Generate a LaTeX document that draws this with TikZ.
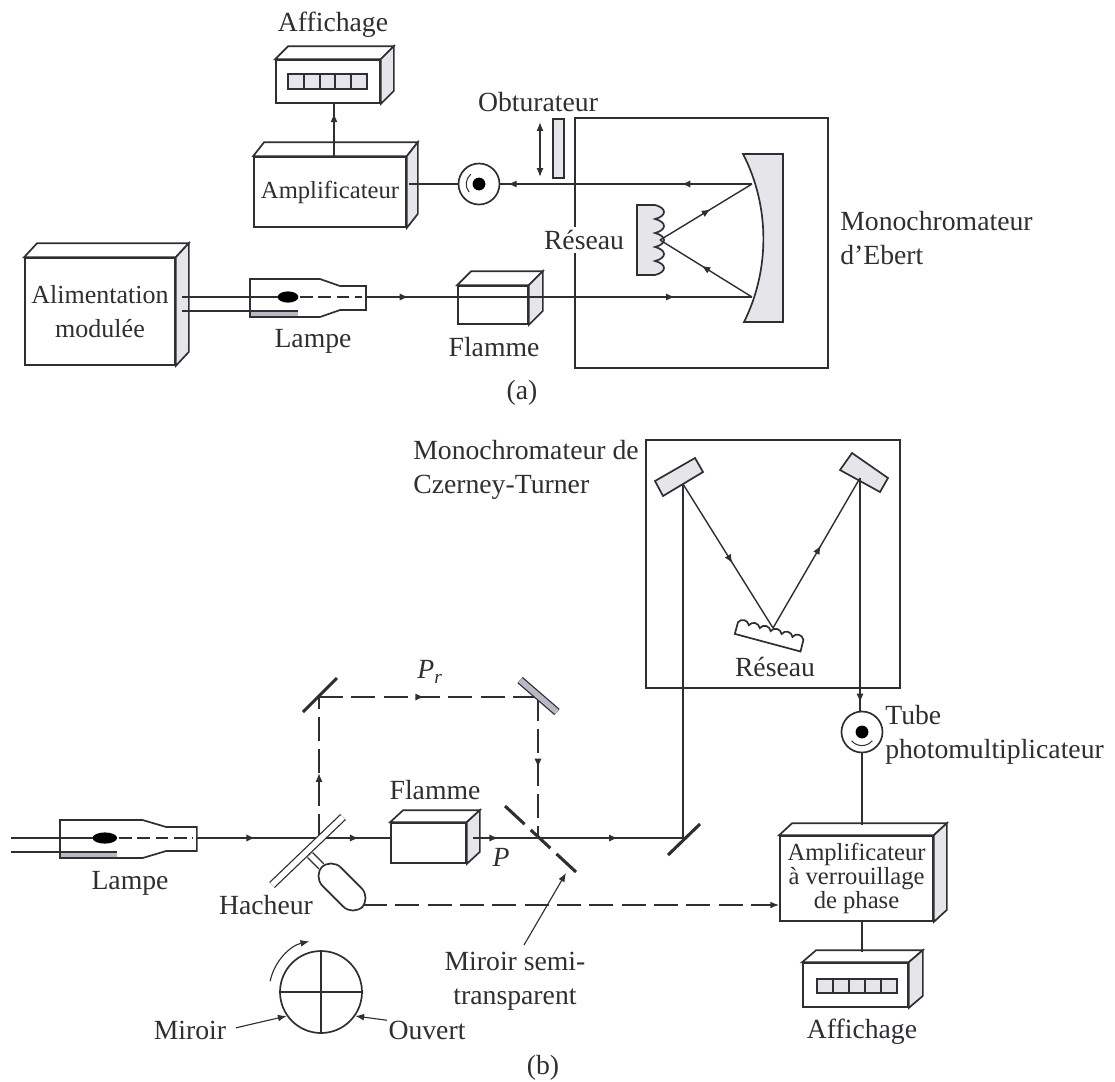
\documentclass[tikz,border=0pt]{standalone}
\usepackage{fontspec}
\setmainfont{Liberation Serif}
\usepackage{tikz}
\usetikzlibrary{arrows.meta,positioning,calc,decorations.markings}
\definecolor{DarkInk}{HTML}{2E2E33}
\definecolor{SoftGray}{HTML}{E6E6EA}
\definecolor{MidGray}{HTML}{B9B9C6}

\tikzset{
  boxsize/.style 2 args={minimum width=#1*0.025cm, minimum height=#2*0.025cm},
  frontbox/.style={draw=DarkInk, fill=white, line width=1.2pt, inner sep=0pt, align=center, text=DarkInk},
  smallfont/.style={font=\fontsize{17.5}{17}\selectfont},
  txtlabel/.style={text=DarkInk, inner sep=0pt, align=center},
  txtleft/.style={text=DarkInk, inner sep=0pt, align=left, anchor=west},
  beam/.style={draw=DarkInk, line width=1pt},
  refbeam/.style={draw=DarkInk, line width=1pt, dash pattern=on 17pt off 6pt},
  tipat/.style={postaction={decorate, decoration={markings, mark=at position #1 with {\arrow{Latex[length=2.2mm,width=1.8mm]}}}}},
  endtip/.style={-{Latex[length=2.2mm,width=1.7mm]}},
  mirrorbar/.style={draw=DarkInk, line width=2.2pt},
  mirrorstrip/.style={draw=DarkInk, line width=0.9pt, double=#1, double distance=4pt},
  detector/.style={circle, draw=DarkInk, fill=white, line width=1.2pt, inner sep=0pt, boxsize={41}{41}},
  lampe/.pic={
    \draw[DarkInk, line width=1.2pt, fill=white] (0,-18) -- (70,-18) -- (90,-11) -- (116,-11) -- (116,13) -- (90,13) -- (70,20) -- (0,20) -- cycle;
    \fill[MidGray] (0,14) rectangle (48,20);
    \draw[DarkInk, line width=1.2pt] (0,20) -- (70,20) (0,-18) -- (0,20);
    \fill[black] (38,0) ellipse [x radius=0.26cm, y radius=0.14cm];
    \draw[DarkInk, line width=1pt, dash pattern=on 9pt off 4pt] (50,0) -- (112,0);
    \coordinate (-hautfil) at (28,0);
    \coordinate (-basfil) at (48,14);
    \coordinate (-sortie) at (116,0);
  }
}

\newcommand{\depthbox}[3]{
  \draw[DarkInk, line width=1.2pt, fill=white] (#1.north west) -- ++(#2,#3) -- ($(#1.north east)+(#2,#3)$) -- (#1.north east) -- cycle;
  \draw[DarkInk, line width=1.2pt, fill=SoftGray] (#1.north east) -- ++(#2,#3) -- ($(#1.south east)+(#2,#3)$) -- (#1.south east) -- cycle;
}
\newcommand{\cellstrip}[1]{
  \fill[SoftGray] (#1.north west) rectangle (#1.south east);
  \draw[DarkInk, line width=1.6pt] (#1.north west) rectangle (#1.south east);
  \foreach \k in {0.2,0.4,0.6,0.8}
    \draw[DarkInk, line width=1.4pt] ($(#1.north west)!\k!(#1.north east)$) -- ($(#1.south west)!\k!(#1.south east)$);
}

\begin{document}
\begin{tikzpicture}[x=0.025cm, y=-0.025cm, every node/.style={font=\fontsize{19.7}{24}\selectfont}]
  \useasboundingbox (0,0) rectangle (1115,1081);

  % (a)
  \node[frontbox, boxsize={104}{43}] (affa) at (328,81.5) {};
  \depthbox{affa}{13}{-13}
  \node[inner sep=0pt, boxsize={79}{14}] (stripa) at (327.5,81.5) {};
  \cellstrip{stripa}
  \node[txtlabel] (affatxt) at (333,25) {Affichage};
  \node[frontbox, smallfont, boxsize={152}{70}] (ampa) at (330,192) {Amplificateur};
  \depthbox{ampa}{11}{-14}
  \coordinate (ampatop) at (334,157);
  \draw[beam, tipat=0.82] (ampatop) -- (ampatop |- affa.south);

  \node[frontbox, font=\fontsize{18.5}{24}\selectfont, boxsize={150}{107}] (alim) at (100,311.5) {Alimentation\\modulée};
  \depthbox{alim}{13}{-14}
  \pic (lampa) at (250,297) {lampe};
  \node[txtlabel] (lampatxt) at (313,341) {Lampe};
  \coordinate (filahaut) at (182,297);
  \coordinate (filabas) at (182,311);
  \draw[beam] (filahaut) -- (lampa-hautfil);
  \draw[beam] (filabas) -- (lampa-basfil);

  \draw[DarkInk, line width=1.2pt] (575,118) rectangle (828,368);
  \node[frontbox, boxsize={70}{38}] (flama) at (493,305) {};
  \depthbox{flama}{14}{-14}
  \node[txtlabel] (flamatxt) at (494,347) {Flamme};

  \draw[DarkInk, line width=1.2pt, fill=SoftGray] (743,154) -- (783,154) -- (783,322) -- (744,322) .. controls (770,270) and (770,206) .. (743,154) -- cycle;
  \coordinate (mirahaut) at (752,184);
  \coordinate (mirabas) at (752,297);
  \coordinate (resa) at (660,240);
  \draw[DarkInk, line width=1.2pt, fill=SoftGray] (637,205) \foreach \ty in {205,219,233,247,261} { -- (655,\ty) .. controls (667,\ty+3) and (667,\ty+11) .. (655,\ty+14)} -- (637,275) -- cycle;
  \node[txtlabel, fill=white, inner ysep=2pt] (resatxt) at (584,240) {Réseau};

  \node[detector] (deta) at (479,184) {};
  \fill[black] (deta.center) circle (0.16cm);
  \draw[DarkInk, line width=0.7pt] ($(deta.center)+(130:0.32cm)$) arc[start angle=130, end angle=220, radius=0.32cm];
  \coordinate (ampasortie) at (409,184);
  \draw[beam] (ampasortie) -- (deta.west);
  \draw[beam, tipat=0.97] (mirahaut) -- (deta.east);
  \draw[beam, tipat=0.28] (mirahaut) -- (deta.east);
  \draw[beam, tipat=0.55] (resa) -- (mirahaut);
  \draw[beam, tipat=0.55] (mirabas) -- (resa);
  \draw[beam, tipat=0.11] (lampa-sortie) -- (mirabas);
  \draw[beam, tipat=0.8] (lampa-sortie) -- (mirabas);

  \node[frontbox, fill=SoftGray, boxsize={11}{59}] (obtu) at (558.5,148.5) {};
  \coordinate (obtuhaut) at (540,122);
  \coordinate (obtubas) at (540,177);
  \draw[DarkInk, line width=0.9pt, {Latex[length=2.2mm,width=1.7mm]}-{Latex[length=2.2mm,width=1.7mm]}] (obtuhaut) -- (obtubas);
  \node[txtlabel] (obtutxt) at (538,102) {Obturateur};
  \node[txtleft] (ebert) at (840,238) {Monochromateur\\d'Ebert};
  \node[txtlabel] (parta) at (522,393) {(a)};

  % (b)
  \draw[DarkInk, line width=1.2pt] (646,440) rectangle (900,688);
  \node[txtleft] (czerny) at (413,470) {Monochromateur de\\Czerney-Turner};
  \draw[DarkInk, line width=1.2pt, fill=SoftGray] (655,481) -- (695,458) -- (703,472) -- (663,496) -- cycle;
  \draw[DarkInk, line width=1.2pt, fill=SoftGray] (840,470) -- (852,453) -- (888,478) -- (880,492) -- cycle;
  \coordinate (mirbg) at (683,484);
  \coordinate (mirbd) at (860,478);
  \coordinate (resb) at (773,628);
  \coordinate (renvoi) at (683,838);
  \begin{scope}[shift={(770,634)}, rotate=-15]
    \draw[DarkInk, line width=1.2pt, fill=white] (-34,9) -- (-34,-3) \foreach \tx in {-34,-22.7,-11.4,-0.1,11.2,22.5} { .. controls (\tx+2,-8) and (\tx+9,-8) .. (\tx+11.3,-3)} -- (34,9) -- cycle;
  \end{scope}
  \node[txtlabel] (resbtxt) at (775,667) {Réseau};
  \draw[beam, tipat=0.55] (mirbg) -- (resb);
  \draw[beam, tipat=0.55] (resb) -- (mirbd);

  \pic[xscale=1.18] (lampb) at (60,838) {lampe};
  \node[txtlabel] (lampbtxt) at (130,883) {Lampe};
  \coordinate (filbhaut) at (11,838);
  \coordinate (filbbas) at (11,852);
  \draw[beam] (filbhaut) -- (lampb-hautfil);
  \draw[beam] (filbbas) -- (lampb-basfil);

  \coordinate (coupe) at (319,838);
  \coordinate (mirhg) at (319,697);
  \coordinate (mirhd) at (538,697);
  \coordinate (semi) at (538,838);
  \draw[refbeam, tipat=0.46] (coupe) -- (mirhg);
  \draw[refbeam, tipat=0.48] (mirhg) -- (mirhd);
  \draw[refbeam, tipat=0.5] (mirhd) -- (semi);
  \draw[beam, tipat=0.12, tipat=0.333, tipat=0.62, tipat=0.866] (lampb-sortie) -- (renvoi);
  \draw[beam] (renvoi) -- (mirbg);

  \node[frontbox, boxsize={75}{40}] (flamb) at (428.5,843) {};
  \depthbox{flamb}{13}{-12}
  \draw[beam] (flamb.east) ++(6,-5) -- ++(8,0);
  \node[txtlabel] (flambtxt) at (435,790) {Flamme};
  \node[txtlabel, font=\fontsize{19.7}{24}\selectfont\itshape] (ptxt) at (501,857) {P};
  \node[txtlabel, font=\fontsize{19.7}{24}\selectfont\itshape] (prtxt) at (430,672) {P\textsubscript{r}};

  \coordinate (lameA) at (272,885);
  \coordinate (lameB) at (343,817);
  \coordinate (axeA) at (310,855);
  \node[draw=DarkInk, fill=white, line width=1.2pt, rounded corners=10pt, inner sep=0pt, rotate=-45, boxsize={57}{26}] (moteur) at (342,887) {};
  \draw[mirrorstrip=white] (axeA) -- (moteur.west);
  \draw[mirrorstrip=white] (lameA) -- (lameB);
  \draw[mirrorbar] (303,712) -- (337,678);
  \draw[mirrorstrip=MidGray] (520,680) -- (557,712);
  \draw[mirrorbar] (668,855) -- (700,824);
  \draw[mirrorbar, dash pattern=on 19pt off 6pt] (505,806) -- (576,872);
  \node[txtlabel] (hachtxt) at (266,905) {Hacheur};
  \node[txtlabel] (semitxt) at (515,981.5) {Miroir semi-\\transparent};
  \coordinate (semipied) at (524,945);
  \coordinate (semitete) at (566,873);
  \draw[DarkInk, line width=0.8pt, endtip] (semipied) -- (semitete);

  \node[frontbox, smallfont, boxsize={153}{85}] (ampb) at (856.5,878.5) {Amplificateur\\à verrouillage\\de phase};
  \depthbox{ampb}{13}{-12}
  \coordinate (moteursortie) at (363,905);
  \draw[refbeam, endtip] (moteursortie) -- (moteursortie -| ampb.west);

  \node[detector] (detb) at (862,732) {};
  \fill[black] (detb.center) circle (0.16cm);
  \draw[DarkInk, line width=0.7pt] ($(detb.center)+(220:0.34cm)$) arc[start angle=220, end angle=320, radius=0.34cm];
  \draw[beam, tipat=0.965] (mirbd) -- (mirbd |- detb.north);
  \node[txtleft] (tube) at (885,735) {Tube\\photomultiplicateur};
  \coordinate (ampbhaut) at (862,825);
  \draw[beam] (detb.south) -- (ampbhaut);

  \node[frontbox, boxsize={105}{44}] (affb) at (855.5,985) {};
  \depthbox{affb}{14}{-12}
  \node[inner sep=0pt, boxsize={80}{14}] (stripb) at (857,986) {};
  \cellstrip{stripb}
  \coordinate (affbhaut) at (862,952);
  \draw[beam] (ampb.south -| affbhaut) -- (affbhaut);
  \node[txtlabel] (affbtxt) at (862,1032) {Affichage};

  \node[circle, draw=DarkInk, line width=1.2pt, fill=white, inner sep=0pt, boxsize={82}{82}] (disque) at (321,992) {};
  \draw[DarkInk, line width=1pt] (disque.north) -- (disque.south);
  \draw[DarkInk, line width=1pt] (disque.west) -- (disque.east);
  \draw[DarkInk, line width=0.8pt, endtip] ($(disque.center)+(168:1.3cm)$) arc[start angle=168, end angle=103, radius=1.3cm];
  \node[txtlabel] (miroirtxt) at (190,1030) {Miroir};
  \node[txtlabel] (ouverttxt) at (427,1030) {Ouvert};
  \draw[DarkInk, line width=0.8pt, endtip, shorten <=7pt] (miroirtxt.east) -- (disque.215);
  \draw[DarkInk, line width=0.8pt, endtip, shorten <=1pt] (ouverttxt.north west) -- (disque.-35);
  \node[txtlabel] (partb) at (543,1068) {(b)};
\end{tikzpicture}
\end{document}
